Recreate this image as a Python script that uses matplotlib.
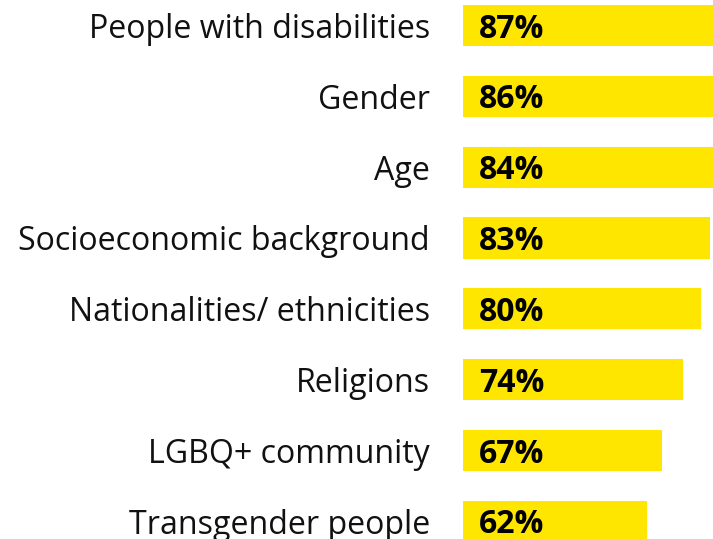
import matplotlib.pyplot as plt

plt.rcParams['font.family'] = ['Open Sans', 'DejaVu Sans']

# survey values
groups = ['People with disabilities', 'Gender', 'Age', 'Socioeconomic background',
          'Nationalities/ ethnicities', 'Religions', 'LGBQ+ community', 'Transgender people']
values = [87, 86, 84, 83, 80, 74, 67, 62]

fig = plt.figure(figsize=(7.13, 5.39), dpi=100)
ax = fig.add_axes([0.649, 0.0, 0.351, 1.0])

pos = list(range(len(groups)))
ax.barh(pos, values, height=0.58, color='#FFE600')

for p, v in zip(pos, values):
    ax.text(5.5, p + 0.05, f'{v}%', va='center', ha='left',
            fontsize=23, fontweight='bold', color='black')

ax.set_xlim(0, 84.0)
ax.set_ylim(7.25, -0.36)
ax.set_yticks(pos)
ax.set_yticklabels(groups, fontsize=23.1, color='#111111')
ax.tick_params(axis='y', length=0, pad=23.5)
ax.set_xticks([])
for s in ax.spines.values():
    s.set_visible(False)

fig.savefig('out.png', dpi=100)
